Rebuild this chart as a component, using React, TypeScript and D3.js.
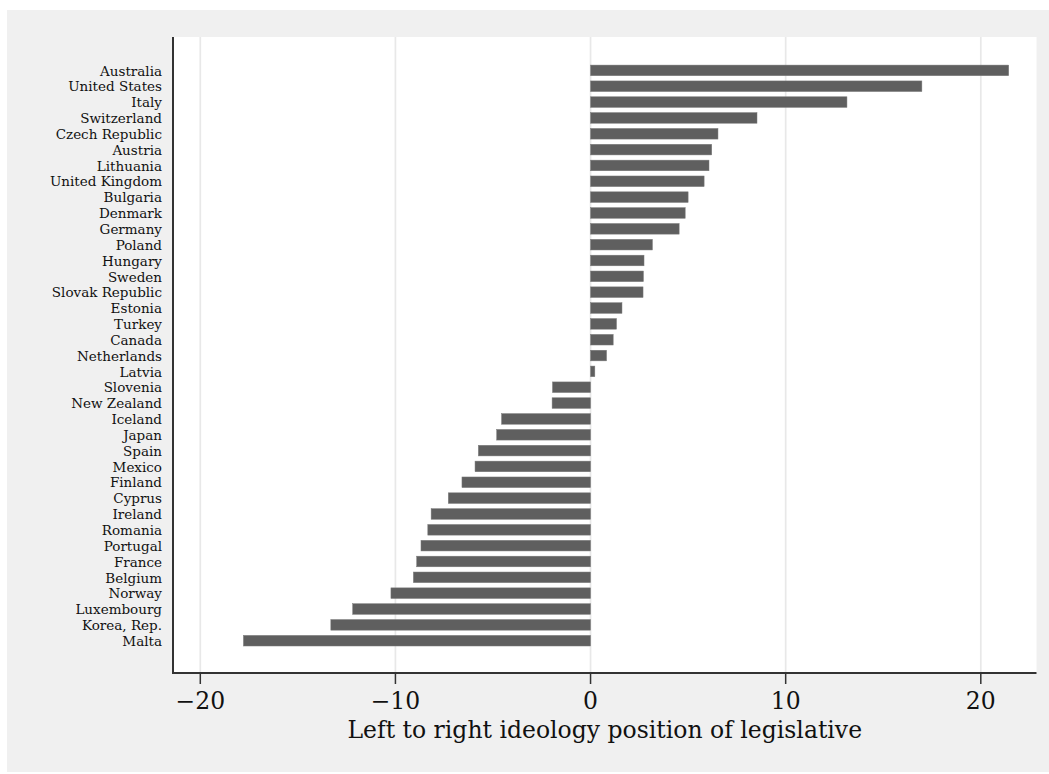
import React, { useEffect } from "react";
import * as d3 from "d3";

const countries = [
  "Australia", "United States", "Italy", "Switzerland", "Czech Republic", "Austria",
  "Lithuania", "United Kingdom", "Bulgaria", "Denmark", "Germany", "Poland",
  "Hungary", "Sweden", "Slovak Republic", "Estonia", "Turkey", "Canada",
  "Netherlands", "Latvia", "Slovenia", "New Zealand", "Iceland", "Japan",
  "Spain", "Mexico", "Finland", "Cyprus", "Ireland", "Romania", "Portugal",
  "France", "Belgium", "Norway", "Luxembourg", "Korea, Rep.", "Malta",
];

const values = [
  21.43, 16.98, 13.14, 8.53, 6.53, 6.21,
  6.07, 5.82, 5.0, 4.85, 4.54, 3.17,
  2.74, 2.71, 2.69, 1.61, 1.33, 1.16,
  0.82, 0.22, -1.95, -1.97, -4.56, -4.81,
  -5.75, -5.92, -6.59, -7.29, -8.17, -8.34, -8.69,
  -8.91, -9.08, -10.23, -12.19, -13.31, -17.79,
];

const xTicks = [-20, -10, 0, 10, 20];
const xTitle = "Left to right ideology position of legislative";

const W = 1049;
const H = 774;
const plotLeft = 173;
const plotRight = 1036.5;
const plotTop = 37;
const plotBottom = 673;

export default function App() {
  useEffect(() => {
    document.body.style.margin = "0";
    document.body.style.overflow = "hidden";
  }, []);

  const x = d3.scaleLinear().domain([-20, 20]).range([200.3, 980.8]);
  const y = d3.scalePoint<string>().domain(countries).range([70.4, 640.7]);
  const barH = y.step() * 0.67;
  const labelFont = "'DejaVu Serif', serif";
  const font = "'DejaVu Serif', serif";

  return (
    <svg
      width={W}
      height={H}
      style={{ position: "absolute", left: 0, top: 0, display: "block" }}
    >
      <rect x={0} y={0} width={W} height={H} fill="#ffffff" />
      <rect x={7} y={10} width={W - 7} height={762} fill="#f0f0f0" />
      <rect
        x={plotLeft}
        y={plotTop}
        width={plotRight - plotLeft}
        height={plotBottom - plotTop}
        fill="#ffffff"
      />
      {xTicks.map((t) => (
        <line
          key={"g" + t}
          x1={x(t)}
          x2={x(t)}
          y1={plotTop}
          y2={plotBottom}
          stroke="#e8e8e8"
          strokeWidth={1.7}
        />
      ))}
      {countries.map((c, i) => {
        const v = values[i];
        const x0 = x(Math.min(0, v));
        const x1 = x(Math.max(0, v));
        return (
          <rect
            key={c}
            x={x0}
            y={(y(c) as number) - barH / 2}
            width={x1 - x0}
            height={barH}
            fill="#5f5f5f"
            stroke="#7a7a7a"
            strokeWidth={0.5}
          />
        );
      })}
      {countries.map((c) => (
        <text
          key={"l" + c}
          x={162}
          y={(y(c) as number) + 5.2}
          textAnchor="end"
          fontFamily={labelFont}
          fontSize={13.5}
          fill="#111"
        >
          {c}
        </text>
      ))}
      <line x1={plotLeft} x2={plotLeft} y1={plotTop} y2={plotBottom + 1} stroke="#333" strokeWidth={2} />
      <line x1={plotLeft - 1} x2={plotRight} y1={plotBottom} y2={plotBottom} stroke="#333" strokeWidth={2} />
      {xTicks.map((t) => (
        <g key={"t" + t}>
          <line x1={x(t)} x2={x(t)} y1={plotBottom} y2={plotBottom + 11} stroke="#333" strokeWidth={1.5} />
          <text
            x={x(t)}
            y={709}
            textAnchor="middle"
            fontFamily={font}
            fontSize={23.5}
            fill="#111"
          >
            {t < 0 ? "\u2212" + Math.abs(t) : String(t)}
          </text>
        </g>
      ))}
      <text
        x={(plotLeft + plotRight) / 2}
        y={738}
        textAnchor="middle"
        fontFamily={font}
        fontSize={23.5}
        fill="#111"
      >
        {xTitle}
      </text>
    </svg>
  );
}
